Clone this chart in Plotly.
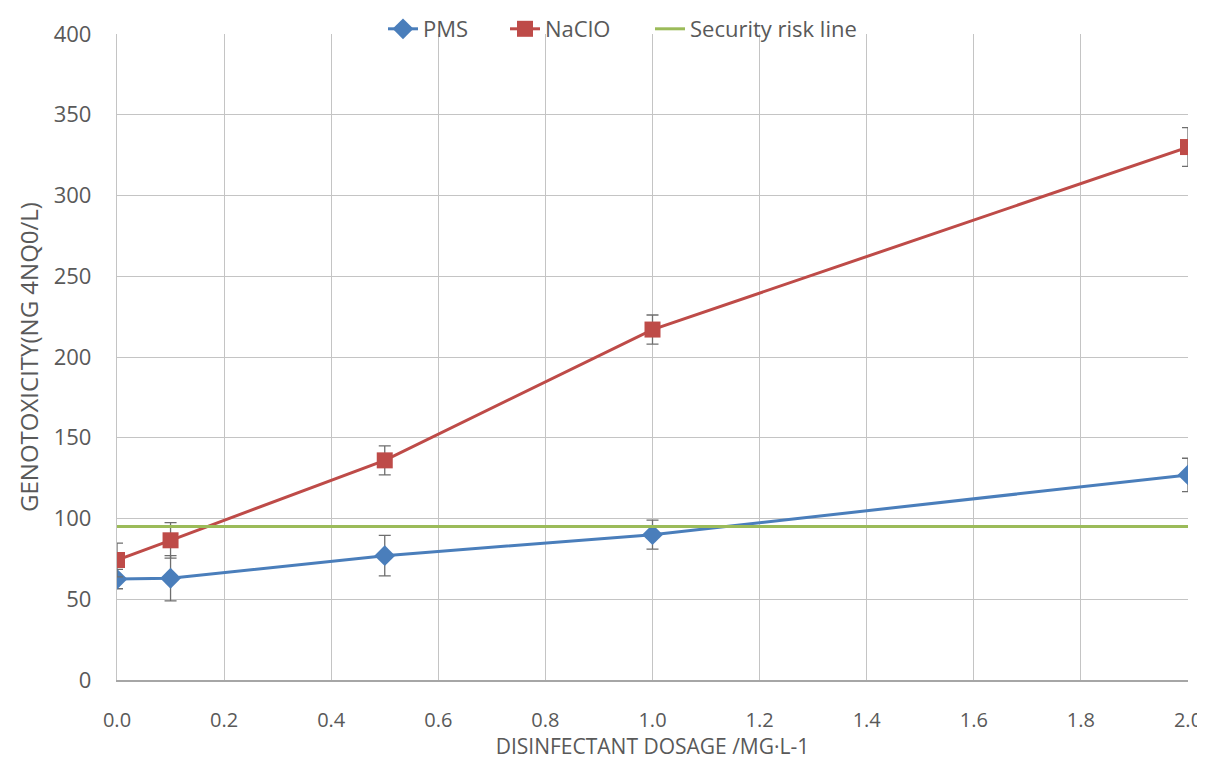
import plotly.graph_objects as go

dosage = [0.0, 0.1, 0.5, 1.0, 2.0]
pms = [62.5, 63.0, 77.0, 90.0, 127.0]
pms_err = [6, 14, 12.5, 9, 10.3]
naclo = [74.3, 86.5, 136.0, 217.0, 330.0]
naclo_err = [10.5, 11, 9, 9, 12]
risk_x = [0.0, 2.0]
risk_y = [95, 95]

x_ticks = [0.0, 0.2, 0.4, 0.6, 0.8, 1.0, 1.2, 1.4, 1.6, 1.8, 2.0]
y_ticks = [0, 50, 100, 150, 200, 250, 300, 350, 400]

grey = "#595959"
gridc = "#c4c4c4"
font = "Open Sans"

fig = go.Figure()
fig.add_trace(go.Scatter(
    x=dosage, y=pms, name="PMS", mode="lines+markers", legend="legend",
    line=dict(color="#4a7ebb", width=3),
    marker=dict(symbol="diamond", size=16, color="#4a7ebb"),
    error_y=dict(type="data", array=pms_err, color="#6e6e6e", thickness=1.3, width=6),
))
fig.add_trace(go.Scatter(
    x=dosage, y=naclo, name="NaClO", mode="lines+markers", legend="legend2",
    line=dict(color="#be4b48", width=3),
    marker=dict(symbol="square", size=16, color="#be4b48"),
    error_y=dict(type="data", array=naclo_err, color="#6e6e6e", thickness=1.3, width=6),
))
fig.add_trace(go.Scatter(
    x=risk_x, y=risk_y, name="Security risk line", mode="lines", legend="legend3",
    line=dict(color="#9bbb59", width=3),
))

def leg(x_screen):
    return dict(orientation="h", x=(x_screen - 117) / 1071, xanchor="left",
                yref="container", y=1.0, yanchor="top",
                font=dict(size=22, color=grey), bgcolor="rgba(0,0,0,0)",
                borderwidth=0)

fig.update_layout(
    width=1205, height=752,
    margin=dict(l=109, r=25, t=26, b=80, autoexpand=False),
    paper_bgcolor="white", plot_bgcolor="white",
    font=dict(family=font, color=grey, size=20),
    showlegend=True,
    legend=leg(383),
    legend2=leg(505),
    legend3=leg(650),
    xaxis=dict(
        range=[0, 2.0], tickvals=x_ticks, tickformat=".1f",
        showgrid=True, gridcolor=gridc, gridwidth=1.3,
        showline=True, linecolor="#a6a6a6", linewidth=1.5,
        zeroline=False, ticks="", ticklabelstandoff=21,
        ticklabeloverflow="allow", automargin=False,
        tickfont=dict(size=20, color=grey),
        title=dict(text="DISINFECTANT DOSAGE /MG·L-1", font=dict(size=21, color=grey), standoff=6),
    ),
    yaxis=dict(
        range=[0, 400], tickvals=y_ticks,
        showgrid=True, gridcolor=gridc, gridwidth=1.3,
        showline=True, linecolor=gridc, linewidth=1.3,
        zeroline=False, ticks="", ticklabelstandoff=20,
        automargin=False,
        tickfont=dict(size=22, color=grey),
        title=dict(text="GENOTOXICITY(NG 4NQ0/L)", font=dict(size=24, color=grey), standoff=8),
    ),
)

fig.write_html("out.html")
